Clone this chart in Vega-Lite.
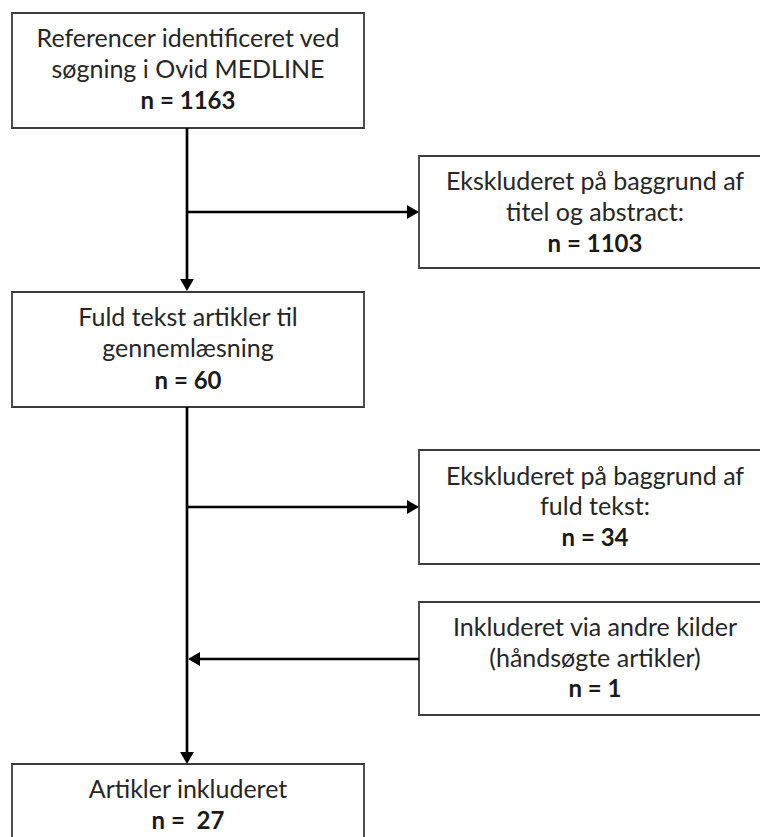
{
  "$schema": "https://vega.github.io/schema/vega-lite/v6.json",
  "width": 760,
  "height": 837,
  "padding": 0,
  "autosize": {"type": "none"},
  "background": "white",
  "config": {"view": {"stroke": null}},
  "datasets": {
    "boxes": [
      {"id": "b1", "x1": 12, "x2": 364, "y1": 13, "y2": 128},
      {"id": "b2", "x1": 419, "x2": 771, "y1": 156, "y2": 268},
      {"id": "b3", "x1": 12, "x2": 364, "y1": 292, "y2": 407},
      {"id": "b4", "x1": 419, "x2": 771, "y1": 450, "y2": 564},
      {"id": "b5", "x1": 419, "x2": 771, "y1": 602, "y2": 715},
      {"id": "b6", "x1": 12, "x2": 364, "y1": 764, "y2": 880}
    ],
    "lines": [
      {"id": "v1", "x1": 187, "y1": 128, "x2": 187, "y2": 281},
      {"id": "h1", "x1": 187, "y1": 212, "x2": 408, "y2": 212},
      {"id": "v2", "x1": 187, "y1": 407, "x2": 187, "y2": 753},
      {"id": "h2", "x1": 187, "y1": 507, "x2": 408, "y2": 507},
      {"id": "h3", "x1": 419, "y1": 659, "x2": 198, "y2": 659}
    ],
    "heads": [
      {"id": "a1", "x": 187, "y": 285, "dir": "down"},
      {"id": "a2", "x": 413, "y": 212, "dir": "right"},
      {"id": "a3", "x": 413, "y": 507, "dir": "right"},
      {"id": "a4", "x": 194, "y": 659, "dir": "left"},
      {"id": "a5", "x": 187, "y": 758, "dir": "down"}
    ],
    "labels": [
      {"x": 188, "y": 47, "text": "Referencer identificeret ved", "role": "label"},
      {"x": 188, "y": 78, "text": "søgning i Ovid MEDLINE", "role": "label"},
      {"x": 188, "y": 109, "text": "n = 1163", "role": "count"},
      {"x": 595, "y": 190, "text": "Ekskluderet på baggrund af", "role": "label"},
      {"x": 595, "y": 221, "text": "titel og abstract:", "role": "label"},
      {"x": 595, "y": 252, "text": "n = 1103", "role": "count"},
      {"x": 188, "y": 326, "text": "Fuld tekst artikler til", "role": "label"},
      {"x": 188, "y": 357, "text": "gennemlæsning", "role": "label"},
      {"x": 188, "y": 389, "text": "n = 60", "role": "count"},
      {"x": 595, "y": 485, "text": "Ekskluderet på baggrund af", "role": "label"},
      {"x": 595, "y": 515, "text": "fuld tekst:", "role": "label"},
      {"x": 595, "y": 546, "text": "n = 34", "role": "count"},
      {"x": 595, "y": 636, "text": "Inkluderet via andre kilder", "role": "label"},
      {"x": 595, "y": 667, "text": "(håndsøgte artikler)", "role": "label"},
      {"x": 595, "y": 697, "text": "n = 1", "role": "count"},
      {"x": 188, "y": 798, "text": "Artikler inkluderet", "role": "label"},
      {"x": 188, "y": 829, "text": "n = \u00a027", "role": "count"}
    ]
  },
  "layer": [
    {
      "data": {"name": "boxes"},
      "mark": {"type": "rect", "fill": "white", "stroke": "#3c3c3c", "strokeWidth": 1.8, "clip": true},
      "encoding": {
        "x": {"field": "x1", "type": "quantitative", "scale": {"domain": [0, 760], "nice": false, "zero": false}, "axis": null},
        "x2": {"field": "x2"},
        "y": {"field": "y1", "type": "quantitative", "scale": {"domain": [0, 837], "nice": false, "zero": false, "reverse": true}, "axis": null},
        "y2": {"field": "y2"}
      }
    },
    {
      "data": {"name": "lines"},
      "mark": {"type": "rule", "color": "black", "strokeWidth": 2.7},
      "encoding": {
        "x": {"field": "x1", "type": "quantitative"},
        "x2": {"field": "x2"},
        "y": {"field": "y1", "type": "quantitative"},
        "y2": {"field": "y2"}
      }
    },
    {
      "data": {"name": "heads"},
      "mark": {"type": "point", "filled": true, "color": "black", "opacity": 1, "size": 190, "strokeWidth": 0},
      "encoding": {
        "x": {"field": "x", "type": "quantitative"},
        "y": {"field": "y", "type": "quantitative"},
        "shape": {
          "field": "dir",
          "type": "nominal",
          "scale": {"domain": ["down", "right", "left"], "range": ["triangle-down", "triangle-right", "triangle-left"]},
          "legend": null
        }
      }
    },
    {
      "data": {"name": "labels"},
      "transform": [{"filter": "datum.role === 'label'"}],
      "mark": {"type": "text", "font": "Lato", "fontSize": 25, "fontWeight": "normal", "color": "#262626", "align": "center", "baseline": "alphabetic"},
      "encoding": {
        "x": {"field": "x", "type": "quantitative"},
        "y": {"field": "y", "type": "quantitative"},
        "text": {"field": "text"}
      }
    },
    {
      "data": {"name": "labels"},
      "transform": [{"filter": "datum.role === 'count'"}],
      "mark": {"type": "text", "font": "Lato", "fontSize": 24, "fontWeight": "bold", "color": "#1a1a1a", "align": "center", "baseline": "alphabetic"},
      "encoding": {
        "x": {"field": "x", "type": "quantitative"},
        "y": {"field": "y", "type": "quantitative"},
        "text": {"field": "text"}
      }
    }
  ]
}
